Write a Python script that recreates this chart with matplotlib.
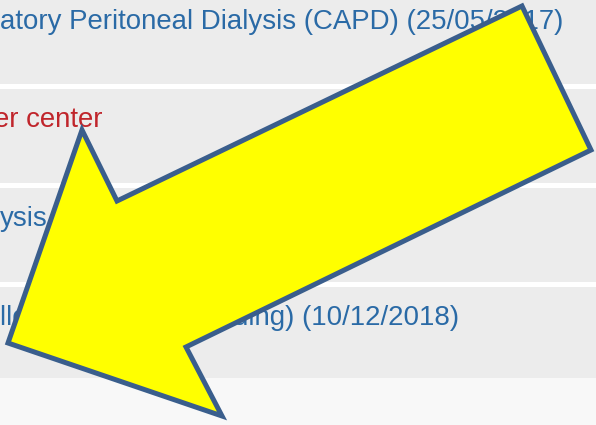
import matplotlib
matplotlib.use("Agg")
import matplotlib.pyplot as plt
from matplotlib.patches import Polygon, Rectangle

plt.rcParams['font.family'] = ['Liberation Sans', 'DejaVu Sans']

# Rows of the (cropped) list view
row_texts = ["atory Peritoneal Dialysis (CAPD) (25/05/2017)",
             "er center",
             "ysis",
             "llograft, on list (pending) (10/12/2018)"]
row_colors = ["#2a6aa6", "#c0252b", "#2a6aa6", "#2a6aa6"]
row_x = [0, -6, 0, 0]
row_baselines = [29, 127, 226, 325]
row_tops = [0, 89, 188, 287]
row_bottoms = [84, 183, 282, 378]

# Arrow outline vertices (pixel coordinates)
arrow_x = [522, 591, 186, 222, 8, 82, 117]
arrow_y = [6, 150, 347, 416, 343, 130, 201]

W, H = 596, 425
fig = plt.figure(figsize=(W / 100, H / 100), dpi=100)
ax = fig.add_axes([0, 0, 1, 1])
ax.set_xlim(0, W)
ax.set_ylim(H, 0)
ax.axis('off')
fig.patch.set_facecolor('white')

# lighter bottom area
ax.add_patch(Rectangle((0, 378), W, H - 378, facecolor='#f8f8f8', edgecolor='none'))
for t, b in zip(row_tops, row_bottoms):
    ax.add_patch(Rectangle((0, t), W, b - t, facecolor='#ececec', edgecolor='none'))

for txt, col, x0, yb in zip(row_texts, row_colors, row_x, row_baselines):
    ax.text(x0, yb, txt, color=col, fontsize=19.9, ha='left', va='baseline',
            clip_on=True)

ax.add_patch(Polygon(list(zip(arrow_x, arrow_y)), closed=True,
                     facecolor='#ffff00', edgecolor='#3a5e8c',
                     linewidth=3.6, joinstyle='miter', zorder=5))

fig.savefig('out.png', dpi=100, facecolor='white')
